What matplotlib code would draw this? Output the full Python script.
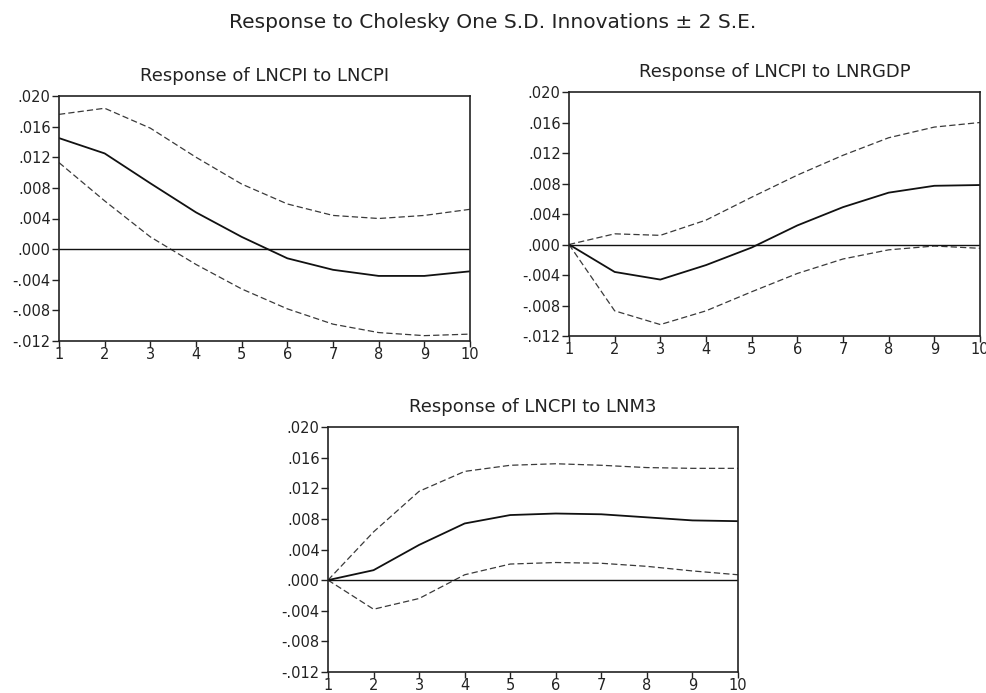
import matplotlib
matplotlib.use("Agg")
import matplotlib.pyplot as plt
import numpy as np

plt.rcParams['font.family'] = ['DejaVu Sans']

periods = [1, 2, 3, 4, 5, 6, 7, 8, 9, 10]
yticks = [-0.012, -0.008, -0.004, 0.0, 0.004, 0.008, 0.012, 0.016, 0.020]
ytick_labels = ["-.012", "-.008", "-.004", ".000", ".004", ".008", ".012", ".016", ".020"]

main_title = "Response to Cholesky One S.D. Innovations \u00b1 2 S.E."

# Panel 1: LNCPI to LNCPI
cpi_resp = [0.0145, 0.0125, 0.0086, 0.0048, 0.0016, -0.0012, -0.0027, -0.0035, -0.0035, -0.0029]
cpi_upper = [0.0176, 0.0184, 0.0158, 0.0120, 0.0085, 0.0059, 0.0044, 0.0040, 0.0044, 0.0052]
cpi_lower = [0.0113, 0.0063, 0.0016, -0.0020, -0.0052, -0.0078, -0.0098, -0.0109, -0.0113, -0.0111]

# Panel 2: LNCPI to LNRGDP
gdp_resp = [0.0, -0.0036, -0.0046, -0.0027, -0.0004, 0.0025, 0.0049, 0.0068, 0.0077, 0.0078]
gdp_upper = [0.0, 0.0014, 0.0012, 0.0032, 0.0062, 0.0091, 0.0117, 0.0140, 0.0154, 0.0160]
gdp_lower = [0.0, -0.0087, -0.0105, -0.0087, -0.0062, -0.0038, -0.0019, -0.0007, -0.0002, -0.0005]

# Panel 3: LNCPI to LNM3
m3_resp = [0.0, 0.0013, 0.0046, 0.0074, 0.0085, 0.0087, 0.0086, 0.0082, 0.0078, 0.0077]
m3_upper = [0.0, 0.0063, 0.0116, 0.0142, 0.0150, 0.0152, 0.0150, 0.0147, 0.0146, 0.0146]
m3_lower = [0.0, -0.0038, -0.0024, 0.0007, 0.0021, 0.0023, 0.0022, 0.0018, 0.0012, 0.0007]

panels = [
    ("Response of LNCPI to LNCPI", cpi_resp, cpi_upper, cpi_lower, [59, 96, 470, 341]),
    ("Response of LNCPI to LNRGDP", gdp_resp, gdp_upper, gdp_lower, [569, 92, 980, 336]),
    ("Response of LNCPI to LNM3", m3_resp, m3_upper, m3_lower, [328, 427, 738, 672]),
]

W, H = 987, 693
fig = plt.figure(figsize=(W / 100, H / 100), dpi=100)
fig.patch.set_facecolor("white")
fig.text(493 / W, 1 - 22 / H, main_title, ha="center", va="center", fontsize=14.5, color="#222222")

for title, resp, up, lo, (x0, y0, x1, y1) in panels:
    ax = fig.add_axes([x0 / W, 1 - y1 / H, (x1 - x0) / W, (y1 - y0) / H])
    ax.plot(periods, up, color="#3a3a3a", lw=0.9, ls=(0, (5, 2.5)))
    ax.plot(periods, lo, color="#3a3a3a", lw=0.9, ls=(0, (5, 2.5)))
    ax.plot(periods, resp, color="#111111", lw=1.3)
    ax.axhline(0, color="#111111", lw=1.0)
    ax.set_xlim(1, 10)
    ax.set_ylim(-0.012, 0.020)
    ax.set_xticks(periods)
    ax.set_xticklabels([str(p) for p in periods], fontsize=10.5)
    ax.set_yticks(yticks)
    ax.set_yticklabels(ytick_labels, fontsize=10.5)
    ax.tick_params(direction="out", length=5, width=1, pad=1, colors="#222222")
    ax.tick_params(axis="x", length=4, pad=0)
    for s in ax.spines.values():
        s.set_linewidth(1.2)
        s.set_color("#222222")
    ax.set_title(title, fontsize=13, pad=10.5, color="#222222")

fig.savefig("out.png", dpi=100)
